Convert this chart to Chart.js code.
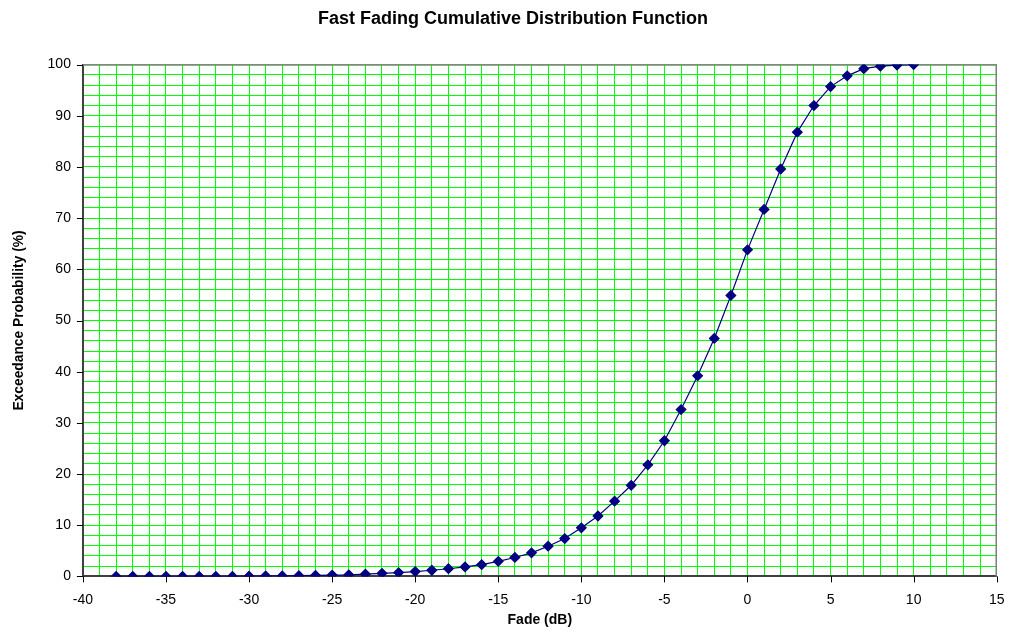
<!DOCTYPE html>
<html>
<head>
<meta charset="utf-8">
<script src="https://cdn.jsdelivr.net/npm/chart.js@4/dist/chart.umd.min.js"></script>
<style>
  body { margin: 0; background: #fff; }
  #wrap { width: 1020px; height: 635px; }
</style>
</head>
<body>
<div id="wrap"><canvas id="cdf" width="1020" height="635"></canvas></div>
<script>
// fade in dB
var fadeDb = [-38,-37,-36,-35,-34,-33,-32,-31,-30,-29,-28,-27,-26,-25,-24,-23,-22,-21,-20,-19,-18,-17,-16,-15,-14,-13,-12,-11,-10,-9,-8,-7,-6,-5,-4,-3,-2,-1,0,1,2,3,4,5,6,7,8,9,10];
// exceedance probability (%)
var probPct = [0,0,0,0,0,0,0,0,0.05,0.08,0.1,0.15,0.2,0.25,0.3,0.45,0.6,0.75,0.95,1.2,1.5,1.85,2.3,2.95,3.7,4.6,5.9,7.4,9.5,11.8,14.7,17.8,21.8,26.5,32.6,39.2,46.5,54.9,63.8,71.7,79.6,86.8,92.0,95.7,97.8,99.2,99.7,99.9,100];
var xTicks = [-40,-35,-30,-25,-20,-15,-10,-5,0,5,10,15];
var yTicks = [0,10,20,30,40,50,60,70,80,90,100];

var points = fadeDb.map(function (x, i) { return { x: x, y: probPct[i] }; });

// grey frame on top/right plus short tick marks at the labelled values only
var frame = {
  id: 'frame',
  beforeDatasetsDraw: function (chart) {
    var a = chart.chartArea, c = chart.ctx;
    var sx = chart.scales.x, sy = chart.scales.y;
    c.save();
    c.strokeStyle = '#808080';
    c.lineWidth = 1.5;
    c.beginPath();
    c.moveTo(a.left, a.top + 0.5);
    c.lineTo(a.right - 0.5, a.top + 0.5);
    c.lineTo(a.right - 0.5, a.bottom);
    c.stroke();
    c.strokeStyle = '#000';
    c.lineWidth = 1;
    c.beginPath();
    xTicks.forEach(function (v) {
      var px = Math.round(sx.getPixelForValue(v)) + 0.5;
      c.moveTo(px, a.bottom);
      c.lineTo(px, a.bottom + 6);
    });
    yTicks.forEach(function (v) {
      var py = Math.round(sy.getPixelForValue(v)) + 0.5;
      c.moveTo(a.left - 6, py);
      c.lineTo(a.left, py);
    });
    c.stroke();
    c.restore();
  }
};

var font = "Arial, 'Liberation Sans'";
var ctx = document.getElementById("cdf").getContext("2d");
var chart = new Chart(ctx, {
  type: 'line',
  data: {
    datasets: [{
      label: "Fade",
      data: points,
      borderColor: "#000080",
      backgroundColor: "#000080",
      borderWidth: 1.2,
      pointStyle: 'rectRot',
      pointRadius: 4.8,
      pointHoverRadius: 4.8,
      fill: false,
      tension: 0
    }]
  },
  plugins: [frame],
  options: {
    responsive: false,
    animation: false,
    layout: { padding: { left: 11, right: 5, top: 4, bottom: 6.5 } },
    plugins: {
      legend: { display: false },
      tooltip: { enabled: false },
      title: {
        display: true,
        text: "Fast Fading Cumulative Distribution Function",
        color: "#000",
        font: { family: font, size: 18, weight: 'bold' },
        padding: { top: 4, bottom: 35 }
      }
    },
    scales: {
      x: {
        type: 'linear',
        min: -40, max: 15,
        ticks: {
          stepSize: 1,
          autoSkip: false,
          maxRotation: 0,
          color: "#000",
          padding: 15.5,
          font: { family: font, size: 14 },
          callback: function (v) { return xTicks.indexOf(v) >= 0 ? String(v) : ''; }
        },
        grid: {
          color: '#00ff00',
          lineWidth: 1,
          drawTicks: false
        },
        border: { color: "#404040", width: 2 },
        title: {
          display: true,
          text: "Fade (dB)",
          color: "#000",
          font: { family: font, size: 14, weight: 'bold' },
          padding: { top: -12.5, bottom: 0 }
        }
      },
      y: {
        min: 0, max: 100,
        ticks: {
          stepSize: 2,
          autoSkip: false,
          color: "#000",
          padding: 12,
          font: { family: font, size: 14 },
          callback: function (v) { return yTicks.indexOf(v) >= 0 ? String(v) : ''; }
        },
        grid: {
          color: '#00ff00',
          lineWidth: 1,
          drawTicks: false
        },
        border: { color: "#404040", width: 2 },
        title: {
          display: true,
          text: "Exceedance Probability (%)",
          color: "#000",
          font: { family: font, size: 13.8, weight: 'bold' },
          padding: { top: 0, bottom: 8 }
        }
      }
    }
  }
});
</script>
</body>
</html>
